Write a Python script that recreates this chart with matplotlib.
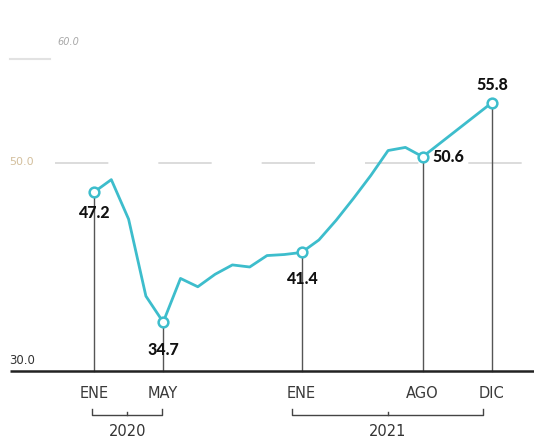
import matplotlib
matplotlib.use("Agg")
import matplotlib.pyplot as plt

months = ["ENE", "FEB", "MAR", "ABR", "MAY", "JUN", "JUL", "AGO", "SEP", "OCT", "NOV", "DIC",
          "ENE", "FEB", "MAR", "ABR", "MAY", "JUN", "JUL", "AGO", "SEP", "OCT", "NOV", "DIC"]
values = [47.2, 48.4, 44.6, 37.2, 34.7, 38.9, 38.1, 39.3, 40.2, 40.0, 41.1, 41.2,
          41.4, 42.6, 44.5, 46.6, 48.8, 51.2, 51.5, 50.6, 51.9, 53.2, 54.5, 55.8]
highlight_idx = [0, 4, 12, 19, 23]
tick_idx = [0, 4, 12, 19, 23]
tick_labels = ["ENE", "MAY", "ENE", "AGO", "DIC"]
years = ["2020", "2021"]

LINE = "#3dbdcc"
fig = plt.figure(figsize=(5.34, 4.41), dpi=100)
ax = fig.add_axes([0, 0, 1, 1])
px = 17.3
ax.set_xlim(-94 / px, (534 - 94) / px)
ax.set_ylim(30 - 70 / 10.4, 30 + 371 / 10.4)
ax.axis("off")

x = list(range(len(values)))
x_left = -94 / px
x_right = (534 - 94) / px

# gridline at 50
ax.plot([x_left + 3.2, x_right], [50, 50], color="#d5d5d5", lw=1.2,
        dashes=(32, 30), zorder=1)
ax.text(x_left + 0.55, 50.1, "50.0", fontsize=8, color="#d3bf9c", va="center", ha="left",
        family="DejaVu Sans")
# faint top guide
ax.plot([x_left + 0.55, x_left + 2.9], [60, 60], color="#e2e2e2", lw=1.5)
# baseline
ax.plot([x_left + 0.55, x_right], [30, 30], color="#222222", lw=1.8, zorder=3,
        solid_capstyle="butt")
ax.text(x_left + 0.55, 30.35, "30.0", fontsize=8.5, color="#333333", va="bottom", ha="left",
        family="DejaVu Sans")
ax.text(x_left + 3.3, 30 + (371 - 42) / 10.4, "60.0", fontsize=7, color="#a8a8a8",
        va="center", ha="left", style="italic")

# drop lines
for i in highlight_idx:
    ax.plot([i, i], [30, values[i]], color="#555555", lw=1.0, zorder=2)

ax.plot(x, values, color=LINE, lw=2.0, zorder=4)
ax.plot([x[i] for i in highlight_idx], [values[i] for i in highlight_idx], "o",
        ms=7, mfc="white", mec=LINE, mew=1.8, zorder=5)

lab_kw = dict(fontsize=11.5, fontweight="black", color="#111111", family="Lato", zorder=6)
ax.text(0, 47.2 - 2.0, "47.2", ha="center", va="center", **lab_kw)
ax.text(4, 34.7 - 2.7, "34.7", ha="center", va="center", **lab_kw)
ax.text(12, 41.4 - 2.6, "41.4", ha="center", va="center", **lab_kw)
ax.text(19 + 0.55, 50.6, "50.6", ha="left", va="center", **lab_kw)
ax.text(23, 55.8 + 1.7, "55.8", ha="center", va="center", **lab_kw)

for ti, tl in zip(tick_idx, tick_labels):
    ax.text(ti, 30 - 2.2, tl, ha="center", va="center", fontsize=10.5, color="#3a3a3a",
            family="DejaVu Sans")

# year brackets
def bracket(x0, x1, label):
    yb = 30 - 4.2
    ax.plot([x0, x0, x1, x1], [yb + 0.5, yb, yb, yb + 0.5], color="#444444", lw=1.0)
    xm = (x0 + x1) / 2
    ax.plot([xm, xm], [yb, yb + 0.3], color="#444444", lw=1.0)
    ax.text(xm, yb - 1.6, label, ha="center", va="center", fontsize=10.5, color="#333333",
            family="DejaVu Sans")

bracket(-0.1, 3.95, years[0])
bracket(11.45, 22.5, years[1])

fig.savefig("out.png", dpi=100, facecolor="white")
